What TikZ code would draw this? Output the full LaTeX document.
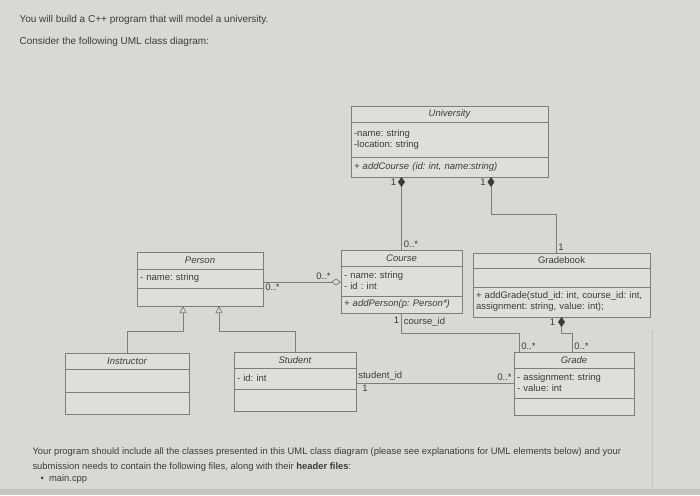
\documentclass[tikz,border=0pt]{standalone}
\usepackage{fontspec}
\setmainfont{Liberation Sans}
\usetikzlibrary{positioning,arrows.meta}

\definecolor{paper}{RGB}{216,216,212}
\definecolor{paperedge}{RGB}{196,196,192}
\definecolor{boxfill}{RGB}{222,222,218}
\definecolor{umlline}{RGB}{125,125,125}
\definecolor{inktext}{RGB}{60,60,60}
\frenchspacing

\begin{document}
\begin{tikzpicture}[
    x=1pt, y=-1pt,
    font=\fontsize{9.5}{11}\selectfont,
    text=inktext,
    umlbox/.style={
        draw=umlline,
        fill=boxfill,
        line width=0.6pt,
        outer sep=0pt,
        inner xsep=3pt,
        inner ysep=0pt,
        text width=#1
    },
    clsname/.style={umlbox=#1, align=center, font=\fontsize{9.5}{11}\selectfont\itshape},
    clsbody/.style={umlbox=#1, align=left},
    mult/.style={font=\fontsize{9.5}{10}\selectfont, inner sep=2pt},
    assoc/.style={draw=umlline, line width=0.7pt},
    compo/.style={assoc, {Diamond[length=10pt, width=7pt, color=inktext]}-},
    aggr/.style={assoc, -{Diamond[open, length=10pt, width=7pt]}},
    inherit/.style={assoc, -{Triangle[open, length=7pt, width=7pt]}}
]

% page
\fill[paper] (0,0) rectangle (700,495);
\fill[paperedge] (0,489) rectangle (700,495);
\draw[paperedge, line width=0.8pt] (652,330) -- (652,489);

\node[anchor=west, font=\fontsize{10}{12}\selectfont] (intro) at (16,20) {You will build a C++ program that will model a university.};
\node[anchor=west, font=\fontsize{10}{12}\selectfont] (consider) at (16,42) {Consider the following UML class diagram:};

% University
\node[clsname=191pt, minimum height=16] (univ) at (449.5,114) {University};
\node[clsbody=191pt, minimum height=35, below=0pt of univ] (univattr) {-name: string\\-location: string};
\node[clsbody=191pt, minimum height=20, below=0pt of univattr, font=\fontsize{9.5}{11}\selectfont\itshape] (univmeth) {+ addCourse (id: int, name:string)};

% Course
\node[clsname=115pt, minimum height=16] (course) at (401.5,258) {Course};
\node[clsbody=115pt, minimum height=30, below=0pt of course] (courseattr) {- name: string\\- id : int};
\node[clsbody=115pt, minimum height=17, below=0pt of courseattr, font=\fontsize{9.5}{11}\selectfont\itshape] (coursemeth) {+ addPerson(p: Person*)};

% Gradebook
\node[clsname=171pt, minimum height=15, font=\fontsize{9.5}{11}\selectfont] (gbook) at (561.5,260.5) {Gradebook};
\node[clsbody=171pt, minimum height=19, below=0pt of gbook] (gbookattr) {};
\node[clsbody=171pt, minimum height=30, below=0pt of gbookattr] (gbookmeth) {+ addGrade(stud\_id: int, course\_id: int,\\assignment: string, value: int);};

% Person
\node[clsname=120pt, minimum height=17] (person) at (200,260.5) {Person};
\node[clsbody=120pt, minimum height=19, below=0pt of person] (personattr) {- name: string};
\node[clsbody=120pt, minimum height=18, below=0pt of personattr] (personmeth) {};

% Instructor
\node[clsname=118pt, minimum height=16] (instr) at (127,361) {Instructor};
\node[clsbody=118pt, minimum height=23, below=0pt of instr] (instrattr) {};
\node[clsbody=118pt, minimum height=22, below=0pt of instrattr] (instrmeth) {};

% Student
\node[clsname=116pt, minimum height=16] (stud) at (295,360) {Student};
\node[clsbody=116pt, minimum height=21, below=0pt of stud] (studattr) {- id: int};
\node[clsbody=116pt, minimum height=22, below=0pt of studattr] (studmeth) {};

% Grade
\node[clsname=114pt, minimum height=16] (grade) at (574,360) {Grade};
\node[clsbody=114pt, minimum height=30, below=0pt of grade] (gradeattr) {- assignment: string\\- value: int};
\node[clsbody=114pt, minimum height=17, below=0pt of gradeattr] (grademeth) {};

% composition
\draw[compo] (course.north |- univmeth.south) node[mult, below left, xshift=-3] {1}
    -- (course.north) node[mult, above right] {0..*};
\draw[compo] ([xshift=41.5]univmeth.south) node[mult, below left, xshift=-3] {1}
    -- ++(0,37) -| ([xshift=-5.5]gbook.north) node[mult, above right] {1};
\draw[compo] (gbookmeth.south) node[mult, below left, xshift=-4] {1}
    -- ++(0,16) -| ([xshift=-2]grade.north) node[mult, above right] {0..*};

% associations
\draw[assoc] (coursemeth.south) node[mult, below left, yshift=-2] {1} node[mult, below right, yshift=-2] {course\_id}
    -- ++(0,20) -| ([xshift=5]grade.north west) node[mult, above right] {0..*};
\draw[assoc] ([yshift=-4.5]studattr.east) node[mult, above right] {student\_id} node[mult, below right, xshift=4] {1}
    -- ([yshift=-4.5]studattr.east -| gradeattr.west) node[mult, above left] {0..*};

% aggregation
\draw[aggr] ([yshift=-1]courseattr.west -| personattr.east) node[mult, below right] {0..*}
    -- ([yshift=-1]courseattr.west) node[mult, above left, xshift=-8] {0..*};

% inheritance
\draw[inherit] (instr.north) |- ([xshift=-17, yshift=-25]personmeth.south) -- ([xshift=-17]personmeth.south);
\draw[inherit] (stud.north) |- ([xshift=19, yshift=-25]personmeth.south) -- ([xshift=19]personmeth.south);

\node[anchor=north west, align=left, font=\fontsize{9.4}{15}\selectfont] (task) at (29,444)
    {Your program should include all the classes presented in this UML class diagram (please see explanations for UML elements below) and your\\
     submission needs to contain the following files, along with their \textbf{header files}:};
\node[anchor=west, font=\fontsize{9.4}{10}\selectfont] (mainfile) at (37,479) {\textbullet\ \ main.cpp};

\end{tikzpicture}
\end{document}
